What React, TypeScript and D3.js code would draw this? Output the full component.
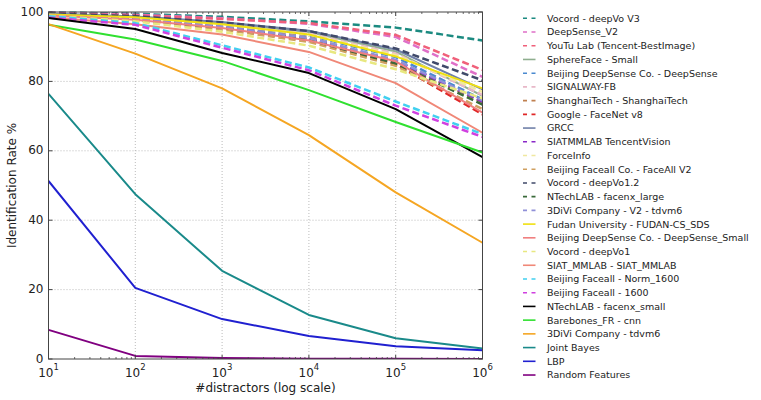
import React from "react";
import * as d3 from "d3";

const distractors = [10, 100, 1000, 10000, 100000, 1000000];

const seriesNames = [
  "Vocord - deepVo V3",
  "DeepSense_V2",
  "YouTu Lab (Tencent-BestImage)",
  "SphereFace - Small",
  "Beijing DeepSense Co. - DeepSense",
  "SIGNALWAY-FB",
  "ShanghaiTech - ShanghaiTech",
  "Google - FaceNet v8",
  "GRCC",
  "SIATMMLAB TencentVision",
  "ForceInfo",
  "Beijing Faceall Co. - FaceAll V2",
  "Vocord - deepVo1.2",
  "NTechLAB - facenx_large",
  "3DiVi Company - V2 - tdvm6",
  "Fudan University - FUDAN-CS_SDS",
  "Beijing DeepSense Co. - DeepSense_Small",
  "Vocord - deepVo1",
  "SIAT_MMLAB - SIAT_MMLAB",
  "Beijing Faceall - Norm_1600",
  "Beijing Faceall - 1600",
  "NTechLAB - facenx_small",
  "Barebones_FR - cnn",
  "3DiVi Company - tdvm6",
  "Joint Bayes",
  "LBP",
  "Random Features",
];

const seriesValues = [
  [99.9, 99.5, 98.6, 97.3, 95.5, 91.8],
  [99.8, 99.2, 98.2, 96.6, 92.8, 81.3],
  [99.7, 99.0, 98.0, 96.8, 93.4, 83.3],
  [99.5, 98.6, 96.9, 94.2, 88.6, 75.8],
  [99.4, 98.3, 96.3, 93.3, 87.0, 74.8],
  [99.5, 98.4, 96.6, 93.8, 88.0, 76.1],
  [99.3, 98.0, 95.8, 92.6, 85.8, 74.0],
  [99.2, 97.9, 95.5, 92.0, 85.0, 70.5],
  [99.6, 98.7, 97.1, 94.6, 89.2, 77.7],
  [99.1, 97.9, 95.6, 92.3, 86.0, 74.2],
  [99.5, 98.5, 96.5, 93.5, 87.6, 77.0],
  [99.0, 97.6, 95.0, 91.4, 84.5, 72.0],
  [99.6, 98.8, 97.0, 94.5, 89.5, 80.3],
  [99.2, 97.8, 95.5, 92.0, 85.2, 73.3],
  [99.3, 98.0, 95.8, 92.5, 86.2, 74.5],
  [99.3, 98.5, 96.5, 93.5, 87.2, 78.0],
  [99.0, 97.8, 95.4, 91.8, 85.8, 71.0],
  [98.9, 97.3, 94.3, 90.3, 83.5, 75.1],
  [98.5, 96.5, 93.5, 88.5, 79.5, 65.2],
  [98.8, 96.8, 90.4, 84.0, 74.2, 64.8],
  [98.4, 96.3, 89.7, 83.2, 73.0, 64.0],
  [98.3, 95.1, 88.2, 82.4, 72.0, 58.2],
  [96.3, 92.1, 85.9, 77.5, 68.3, 59.5],
  [96.5, 88.0, 78.0, 64.5, 48.0, 33.5],
  [76.4, 47.5, 25.4, 12.7, 6.0, 3.0],
  [51.3, 20.5, 11.5, 6.6, 3.7, 2.5],
  [8.4, 0.9, 0.3, 0.1, 0.05, 0.02],
];

const seriesColors = [
  "#1b8a80", "#df6fc8", "#f0607a", "#8fae8f", "#4a8ad0", "#e8b8c8",
  "#c08050", "#e02828", "#7080a8", "#8a28c8", "#f0e8a0", "#d0a060",
  "#404a6a", "#3a6a3a", "#9090d8", "#f0e010", "#f08080", "#e8e880",
  "#f08878", "#40d0f0", "#d040e0", "#000000", "#30e030", "#f5a623",
  "#1a8a8a", "#2020d0", "#800080",
];

const seriesDashed = [
  true, true, true, false, true, true, true, true, false, true, true, true,
  true, true, true, false, false, true, false, true, true, false, false,
  false, false, false, false,
];

const yTicks = [0, 20, 40, 60, 80, 100];
const xTickExps = [1, 2, 3, 4, 5, 6];

const PL = 48.5, PR = 482.5, PT = 12, PB = 359;

export default function App() {
  const x = d3.scaleLog().domain([10, 1e6]).range([PL, PR]);
  const y = d3.scaleLinear().domain([0, 100]).range([PB, PT]);
  const line = d3
    .line<number>()
    .x((_, i) => x(distractors[i]))
    .y((v) => y(v));

  const minor: number[] = [];
  for (let e = 1; e < 6; e++) {
    for (let m = 2; m <= 9; m++) minor.push(m * Math.pow(10, e));
  }

  const font = "DejaVu Sans, sans-serif";
  const frame = "#444";

  return (
    <svg
      width={761}
      height={400}
      style={{ position: "absolute", left: 0, top: 0, background: "#fff" }}
      fontFamily={font}
    >
      <rect x={0} y={0} width={761} height={400} fill="#fff" />
      {/* grid */}
      {xTickExps.slice(1, -1).map((e) => (
        <line
          key={"gx" + e}
          x1={x(Math.pow(10, e))}
          x2={x(Math.pow(10, e))}
          y1={PT}
          y2={PB}
          stroke="#aaa"
          strokeWidth={0.8}
          strokeDasharray="1,2"
        />
      ))}
      {yTicks.slice(1, -1).map((t) => (
        <line
          key={"gy" + t}
          x1={PL}
          x2={PR}
          y1={y(t)}
          y2={y(t)}
          stroke="#aaa"
          strokeWidth={0.8}
          strokeDasharray="1,2"
        />
      ))}
      {/* series */}
      <defs>
        <clipPath id="clip">
          <rect x={PL} y={PT - 2} width={PR - PL} height={PB - PT + 2} />
        </clipPath>
      </defs>
      <g clipPath="url(#clip)">
        {seriesValues.map((vals, i) => (
          <path
            key={"s" + i}
            d={line(vals) || ""}
            fill="none"
            stroke={seriesColors[i]}
            strokeWidth={seriesDashed[i] ? 2.5 : 2}
            strokeDasharray={seriesDashed[i] ? "7,3.5" : undefined}
            strokeLinejoin="round"
          />
        ))}
      </g>
      {/* frame */}
      <rect x={PL} y={PT} width={PR - PL} height={PB - PT} fill="none" stroke={frame} strokeWidth={1} />
      {/* x ticks */}
      {xTickExps.map((e) => {
        const xx = x(Math.pow(10, e));
        return (
          <g key={"xt" + e}>
            <line x1={xx} x2={xx} y1={PB} y2={PB - 4} stroke={frame} />
            <line x1={xx} x2={xx} y1={PT} y2={PT + 4} stroke={frame} />
            <text x={xx} y={377} textAnchor="middle" fontSize={12} fill="#222">
              10
              <tspan dy={-7.5} fontSize={8.5}>
                {String(e)}
              </tspan>
            </text>
          </g>
        );
      })}
      {minor.map((m, i) => {
        const xx = x(m);
        return (
          <g key={"mn" + i}>
            <line x1={xx} x2={xx} y1={PB} y2={PB - 2} stroke={frame} strokeWidth={0.8} />
            <line x1={xx} x2={xx} y1={PT} y2={PT + 2} stroke={frame} strokeWidth={0.8} />
          </g>
        );
      })}
      {/* y ticks */}
      {yTicks.map((t) => (
        <g key={"yt" + t}>
          <line x1={PL} x2={PL + 4} y1={y(t)} y2={y(t)} stroke={frame} />
          <line x1={PR} x2={PR - 4} y1={y(t)} y2={y(t)} stroke={frame} />
          <text x={43.5} y={y(t) + 3.5} textAnchor="end" fontSize={12} fill="#222">
            {t}
          </text>
        </g>
      ))}
      {/* axis titles */}
      <text x={(PL + PR) / 2} y={392} textAnchor="middle" fontSize={12} fill="#222">
        #distractors (log scale)
      </text>
      <text
        transform={`translate(16, ${(PT + PB) / 2}) rotate(-90)`}
        textAnchor="middle"
        fontSize={12}
        fill="#222"
      >
        Identification Rate %
      </text>
      {/* legend */}
      {seriesNames.map((name, i) => {
        const yy = 18.3 + i * 13.72;
        return (
          <g key={"lg" + i}>
            <line
              x1={523}
              x2={535.5}
              y1={yy}
              y2={yy}
              stroke={seriesColors[i]}
              strokeWidth={1.6}
              strokeDasharray={seriesDashed[i] ? "4,4.5" : undefined}
            />
            <text x={547} y={yy + 3.4} fontSize={9.5} fill="#222">
              {name}
            </text>
          </g>
        );
      })}
    </svg>
  );
}
